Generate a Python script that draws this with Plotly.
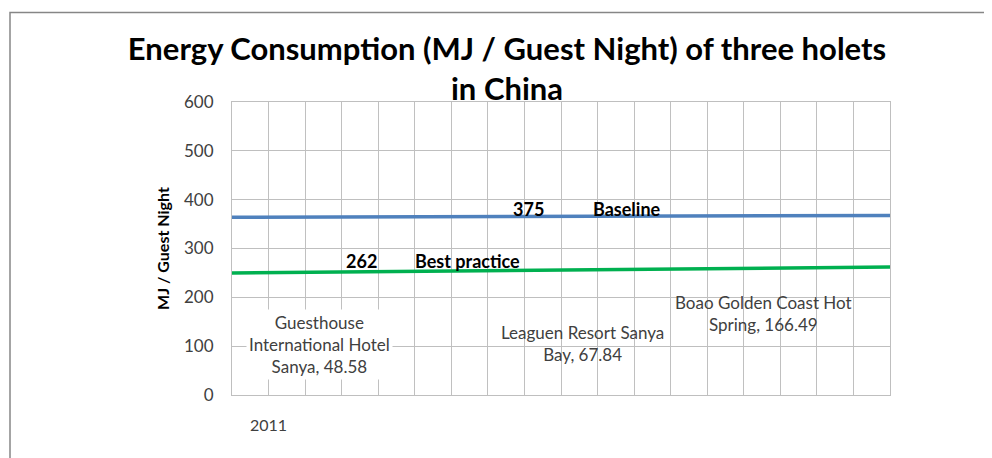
import plotly.graph_objects as go

# ---- data ----
x_idx = [0, 9, 14, 18]                      # category positions (18 intervals across the axis)
baseline = [364, 365, 366.5, 367.5]
best_practice = [250, 256, 260.5, 262]
baseline_label = "375"
best_label = "262"
tick_label = ["2011"]
tick_pos = [1]
hotels = ["Guesthouse<br>International Hotel<br>Sanya, 48.58",
          "Leaguen Resort Sanya<br>Bay, 67.84",
          "Boao Golden Coast Hot<br>Spring, 166.49"]
hotel_x = [2.4, 9.6, 14.55]
hotel_y = [104, 105, 166]

FONT = "Lato, Carlito, Calibri, sans-serif"
W, H = 992, 458
OFF = 8  # page body offset
L, T = 232 - OFF, 102 - OFF
pw, ph = 658, 293
R = W - L - pw
B = H - T - ph

fig = go.Figure()
fig.add_trace(go.Scatter(x=x_idx, y=baseline, mode="lines",
                         line=dict(color="#4F81BD", width=3.5), name="Baseline"))
fig.add_trace(go.Scatter(x=x_idx, y=best_practice, mode="lines",
                         line=dict(color="#00B050", width=3.5), name="Best practice"))

ann = []
ann.append(dict(x=8.1, y=381, text="<b>" + baseline_label + "</b>"))
ann.append(dict(x=10.8, y=381, text="<b>Baseline</b>"))
ann.append(dict(x=3.53, y=274, text="<b>" + best_label + "</b>"))
ann.append(dict(x=6.44, y=274, text="<b>Best practice</b>"))
for a in ann:
    a.update(xref="x", yref="y", showarrow=False,
             font=dict(family=FONT, size=18, color="#000000"))
    fig.add_annotation(**a)

for i, (t, hx, hy) in enumerate(zip(hotels, hotel_x, hotel_y)):
    fig.add_annotation(x=hx, y=hy, xref="x", yref="y", text=t, showarrow=False,
                       align="center",
                       bgcolor="#FFFFFF" if i == 0 else "rgba(0,0,0,0)",
                       borderpad=2,
                       font=dict(family=FONT, size=17, color="#404040"))

# outer chart border
fig.add_shape(type="rect", xref="paper", yref="paper",
              x0=(10 - OFF - L) / pw, x1=(1010 - L) / pw,
              y0=-0.5, y1=(T + ph - (12.5 - OFF)) / ph,
              line=dict(color="#868686", width=1.5), layer="below")

fig.update_layout(
    width=W, height=H,
    margin=dict(l=L, r=R, t=T, b=B),
    paper_bgcolor="white", plot_bgcolor="white",
    showlegend=False,
    title=dict(text="<b>Energy Consumption (MJ / Guest Night) of three holets<br>in China</b>",
               x=(507 - OFF) / W, xanchor="center", y=1 - (60 - OFF) / H, yanchor="middle",
               font=dict(family=FONT, size=31, color="#000000")),
    xaxis=dict(range=[0, 18], tickmode="array", tickvals=tick_pos, ticktext=tick_label,
               showgrid=True, gridcolor="#C0C0C0", gridwidth=1,
               showline=True, linecolor="#BFBFBF", mirror=True,
               zeroline=False, ticks="", ticklabelstandoff=16,
               tickfont=dict(family=FONT, size=16, color="#404040"),
               minor=dict(showgrid=True, dtick=1, tick0=0, gridcolor="#C0C0C0", gridwidth=1)),
    yaxis=dict(range=[0, 600], dtick=100, showgrid=True, gridcolor="#BFBFBF",
               showline=True, linecolor="#BFBFBF", mirror=True, zeroline=False,
               ticks="", ticklabelstandoff=14,
               tickfont=dict(family=FONT, size=17, color="#404040"),
               title=dict(text="<b>MJ / Guest Night</b>", standoff=10,
                          font=dict(family=FONT, size=16, color="#000000"))),
)

fig.write_html("out.html")
